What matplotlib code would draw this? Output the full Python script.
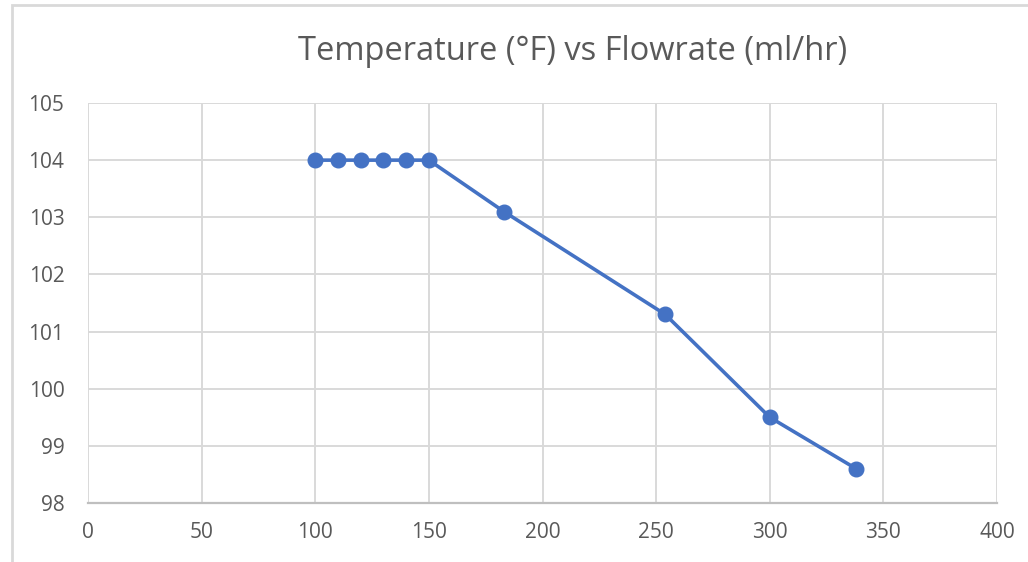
import matplotlib.pyplot as plt
from matplotlib.patches import Rectangle

flowrate = [100, 110, 120, 130, 140, 150, 183, 254, 300, 338]
temperature = [104, 104, 104, 104, 104, 104, 103.1, 101.3, 99.5, 98.6]
x_ticks = [0, 50, 100, 150, 200, 250, 300, 350, 400]
y_ticks = [98, 99, 100, 101, 102, 103, 104, 105]
title = "Temperature (°F) vs Flowrate (ml/hr)"

plt.rcParams['font.family'] = ['Open Sans', 'DejaVu Sans']

fig = plt.figure(figsize=(10.28, 5.62), dpi=100)
ax = fig.add_axes([88 / 1028, 59 / 562, 909 / 1028, 400 / 562])

# outer chart frame (cropped on the right and bottom)
fig.patches.append(Rectangle((12 / 1028, -0.1), 1.2, (562 - 5) / 562 + 0.1,
                             transform=fig.transFigure, fill=False,
                             edgecolor='#d9d9d9', linewidth=2))

ax.plot(flowrate, temperature, color='#4472C4', linewidth=2.6,
        marker='o', markersize=10.5, zorder=3)

ax.set_xlim(0, 400)
ax.set_ylim(98, 105)
ax.set_xticks(x_ticks)
ax.set_yticks(y_ticks)
ax.grid(True, color='#d9d9d9', linewidth=1.4)
ax.set_axisbelow(True)
for side in ['left', 'top', 'right']:
    ax.spines[side].set_visible(False)
ax.spines['bottom'].set_color('#bfbfbf')
ax.spines['bottom'].set_linewidth(1.6)
ax.tick_params(length=0, labelsize=15, labelcolor='#595959')
ax.tick_params(axis='y', pad=17)
ax.tick_params(axis='x', pad=14)

fig.text(573 / 1028, 1 - 60 / 562, title, ha='center', va='baseline',
         fontsize=23.5, color='#595959')

fig.savefig('out.png', dpi=100)
